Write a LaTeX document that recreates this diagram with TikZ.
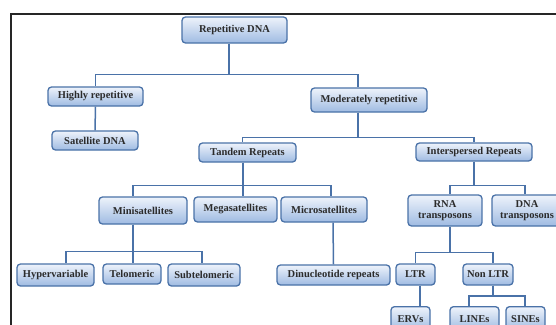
\documentclass[tikz,border=0pt]{standalone}
\usepackage{fontspec}
\setmainfont{Liberation Serif}
\definecolor{edge}{HTML}{4A72A8}
\definecolor{topc}{HTML}{EEF3FB}
\definecolor{botc}{HTML}{9FBBE2}
\definecolor{txt}{HTML}{2B2B2B}
\tikzset{
  box/.style={draw=edge, line width=1.3pt, rounded corners=3.5pt, top color=topc, bottom color=botc,
    inner sep=0pt, align=center, font=\bfseries\fontsize{10.5}{10.5}\selectfont, text=txt},
  link/.style={draw=edge, line width=1.5pt}
}
\begin{document}
\begin{tikzpicture}[x=1pt,y={(0pt,-1pt)}]
\useasboundingbox (0,0) rectangle (556,324);
\fill[white] (0,0) rectangle (556,324);
\clip (0,0) rectangle (556,324);
\draw[line width=2pt, black!85] (11,14) rectangle (575,340);
% nodes
\node[box, minimum width=105pt, minimum height=26pt] (rep) at (234.5,30) {Repetitive DNA};
\node[box, minimum width=95pt, minimum height=19pt] (hr) at (95.5,96.5) {Highly repetitive};
\node[box, minimum width=86pt, minimum height=19pt] (sat) at (95,140.5) {Satellite DNA};
\node[box, minimum width=116pt, minimum height=24pt] (mod) at (369,100) {Moderately repetitive};
\node[box, minimum width=97pt, minimum height=19pt] (tan) at (247.5,152.5) {Tandem Repeats};
\node[box, minimum width=116pt, minimum height=18pt] (int) at (474,152) {Interspersed Repeats};
\node[box, minimum width=88pt, minimum height=27pt] (mini) at (143,210.5) {Minisatellites};
\node[box, minimum width=83pt, minimum height=25pt] (mega) at (235.5,209.5) {Megasatellites};
\node[box, minimum width=86pt, minimum height=25pt] (micro) at (324,209.5) {Microsatellites};
\node[box, minimum width=77pt, minimum height=22pt] (hyp) at (55.5,275) {Hypervariable};
\node[box, minimum width=58pt, minimum height=20pt] (tel) at (132,274) {Telomeric};
\node[box, minimum width=72pt, minimum height=22pt] (sub) at (204,275) {Subtelomeric};
\node[box, minimum width=113pt, minimum height=20pt] (din) at (333.5,275) {Dinucleotide repeats};
\node[box, minimum width=74pt, minimum height=31pt] (rna) at (445,210.5) {RNA\\transposons};
\node[box, minimum width=70pt, minimum height=31pt] (dna) at (527,210.5) {DNA\\transposons};
\node[box, minimum width=39pt, minimum height=21pt] (ltr) at (415.5,274.5) {LTR};
\node[box, minimum width=50pt, minimum height=21pt] (nonltr) at (488,274.5) {Non LTR};
\node[box, minimum width=39pt, minimum height=24pt, anchor=north] (erv) at (410.5,306) {\raisebox{-3pt}{ERVs}};
\node[box, minimum width=49pt, minimum height=24pt, anchor=north] (lines) at (474.5,306) {\raisebox{-3pt}{LINEs}};
\node[box, minimum width=39pt, minimum height=24pt, anchor=north] (sines) at (525.5,306) {\raisebox{-3pt}{SINEs}};
% connectors
\draw[link] ([xshift=-5.5pt]rep.south) -- ++(0,31) -| (hr.north);
\draw[link] ([xshift=-5.5pt]rep.south) -- ++(0,31) -| ([xshift=-11pt]mod.north);
\draw[link] (hr.south) -- (sat.north);
\draw[link] ([xshift=-11pt]mod.south) -- ++(0,25) -| ([xshift=-5pt]tan.north);
\draw[link] ([xshift=-11pt]mod.south) -- ++(0,25) -| (int.north);
\draw[link] ([xshift=-4.5pt]tan.south) -- ++(0,23) -| ([xshift=-10pt]mini.north);
\draw[link] ([xshift=-4.5pt]tan.south) -- ++(0,23) -| ([xshift=7pt]micro.north);
\draw[link] ([xshift=-4.5pt]tan.south) -- ([xshift=7.5pt]mega.north);
\draw[link] ([xshift=-10pt]mini.south) -- ++(0,27) -| ([xshift=10.5pt]hyp.north);
\draw[link] ([xshift=-10pt]mini.south) -- ++(0,27) -| ([xshift=-2pt]sub.north);
\draw[link] ([xshift=-10pt]mini.south) -- ([xshift=1pt]tel.north);
\draw[link] ([xshift=9pt]micro.south) -- (din.north);
\draw[link] (int.south) -- ++(0,24) -| ([xshift=-2pt]dna.north);
\draw[link] (int.south) -- ++(0,24) -| ([xshift=5pt]rna.north);
\draw[link] ([xshift=5pt]rna.south) -- ++(0,26) -| (ltr.north);
\draw[link] ([xshift=5pt]rna.south) -- ++(0,26) -| ([xshift=5pt]nonltr.north);
\draw[link] ([xshift=4.5pt]ltr.south) -- ([xshift=9.5pt]erv.north);
\draw[link] ([xshift=5pt]nonltr.south) -- ++(0,10.5) -| ([xshift=-5.5pt]lines.north);
\draw[link] ([xshift=5pt]nonltr.south) -- ++(0,10.5) -| ([xshift=-0.5pt]sines.north);
\end{tikzpicture}
\end{document}
